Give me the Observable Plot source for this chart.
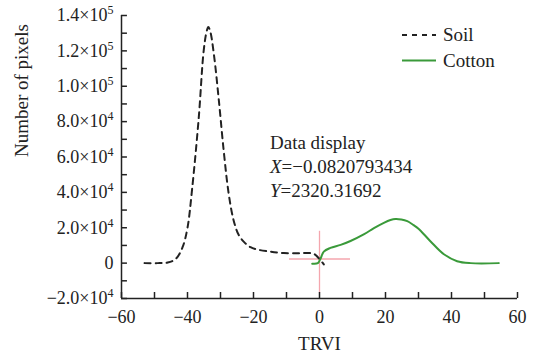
<!DOCTYPE html>
<html>
<head>
<meta charset="utf-8">
<script src="https://cdn.jsdelivr.net/npm/d3@7"></script>
<script src="https://cdn.jsdelivr.net/npm/@observablehq/plot@0.6"></script>
<style>
  body { margin: 0; background: #fff; }
  #wrap { position: relative; width: 534px; height: 353px; font-family: "Liberation Serif", "Times New Roman", serif; color: #222; }
  #wrap svg { position: absolute; left: 0; top: 0; }
  .info { position: absolute; left: 270px; top: 130.5px; font-size: 19px; line-height: 24px; white-space: nowrap; }
  .legend { position: absolute; left: 0; top: 0; }
</style>
</head>
<body>
<div id="wrap"></div>
<script>
// ---- data ----
const soilX = [-53, -49, -46, -43.5, -41.5, -40, -38.6, -36.6, -35.1, -34.2, -33.7, -33.1, -32.0, -30.5, -29.0, -27.5, -26.0, -24.5, -22.9, -20.9, -18.9, -15, -10.8, -6, -3, -1.5, 0, 1.3];
const soilY = [0, 0, 300, 2500, 9000, 20000, 42000, 82000, 120000, 131000, 133500, 131000, 118000, 92000, 63000, 39000, 24000, 16000, 12000, 9000, 7700, 6500, 5700, 5600, 5700, 5000, 2300, -700];
const cottonX = [-2.2, -0.5, 0.3, 1.3, 3.3, 6.4, 9.4, 13.4, 16.5, 19.5, 21.5, 23.0, 24.8, 26.6, 28.5, 30, 33.6, 37.7, 41.7, 45.8, 54.3];
const cottonY = [-300, 0, 2500, 6500, 8600, 10300, 12500, 16200, 19800, 22800, 24400, 25000, 24700, 23700, 21500, 19500, 12400, 5000, 1100, 0, 0];
const seriesNames = ["Soil", "Cotton"];
const xTicks = [-60, -40, -20, 0, 20, 40, 60];
const xTickLabels = ["\u221260", "\u221240", "\u221220", "0", "20", "40", "60"];
const xMinor = [-50, -30, -10, 10, 30, 50];
const yTicks = [-20000, 0, 20000, 40000, 60000, 80000, 100000, 120000, 140000];
const yTickLabels = ["\u22122.0\u00d710^4", "0", "2.0\u00d710^4", "4.0\u00d710^4", "6.0\u00d710^4", "8.0\u00d710^4", "1.0\u00d710^5", "1.2\u00d710^5", "1.4\u00d710^5"];
const yMinor = [-10000, 10000, 30000, 50000, 70000, 90000, 110000, 130000];
const crossX = [0];
const crossY = [2320.31692];
const crossXSpan = [-9.1, 9.4];
const crossYSpan = [-17000, 18000];
const infoLines = ["Data display", "X=\u22120.0820793434", "Y=2320.31692"];
const xLabel = "TRVI";
const yLabel = "Number of pixels";

const soil = soilX.map((x, i) => ({x, y: soilY[i]}));
const cotton = cottonX.map((x, i) => ({x, y: cottonY[i]}));

const ink = "#222";
const green = "#3a9a3a";
const pink = "#f4a6ae";

const xMin = -60, yMin = -20000;
// inward tick lengths, in data units (x: 3.3 px/unit, y: 17.7 px per 10^4)
const tickLenY = 3400, tickLenX = 1.8;

const chart = Plot.plot({
  width: 534,
  height: 353,
  marginLeft: 121,
  marginRight: 17,
  marginTop: 15,
  marginBottom: 55,
  style: {fontFamily: "'Liberation Serif', 'Times New Roman', serif", fontSize: "18px", color: ink, background: "transparent"},
  x: {domain: [-60, 60]},
  y: {domain: [-20000, 140000]},
  marks: [
    // crosshair
    Plot.ruleX(crossX, {y1: crossYSpan[0], y2: crossYSpan[1], stroke: pink, strokeWidth: 1.3}),
    Plot.ruleY(crossY, {x1: crossXSpan[0], x2: crossXSpan[1], stroke: pink, strokeWidth: 1.3}),
    // curves
    Plot.line(soil, {x: "x", y: "y", curve: "catmull-rom", stroke: ink, strokeWidth: 2, strokeDasharray: "6,5"}),
    Plot.line(cotton, {x: "x", y: "y", curve: "catmull-rom", stroke: green, strokeWidth: 2}),
    // inward ticks
    Plot.ruleX(xTicks.concat(xMinor), {y1: yMin, y2: yMin + tickLenY, stroke: ink, strokeWidth: 1.5}),
    Plot.ruleY(yTicks.concat(yMinor), {x1: xMin, x2: xMin + tickLenX, stroke: ink, strokeWidth: 1.5}),
    // axis lines
    Plot.ruleX([xMin], {stroke: ink, strokeWidth: 1.5}),
    Plot.ruleY([yMin], {stroke: ink, strokeWidth: 1.5}),
    // tick labels
    Plot.axisX({ticks: xTicks, tickSize: 0, tickPadding: 12, label: null, fill: ink,
      tickFormat: d => xTickLabels[xTicks.indexOf(d)]}),
    Plot.axisY({ticks: yTicks, tickSize: 0, tickPadding: 8, label: null, fill: ink,
      tickFormat: d => yTickLabels[yTicks.indexOf(d)]}),
    // axis titles
    Plot.text([xLabel], {frameAnchor: "bottom", lineAnchor: "middle", dy: 45, fill: ink, fontSize: 19}),
    Plot.text([yLabel], {frameAnchor: "left", rotate: -90, dx: -100, fill: ink, fontSize: 19})
  ]
});

// superscripts for y tick labels
chart.querySelectorAll("text").forEach(t => {
  const s = t.textContent;
  if (s.includes("^")) {
    const [base, exp] = s.split("^");
    while (t.firstChild) t.removeChild(t.firstChild);
    t.appendChild(document.createTextNode(base));
    const ts = document.createElementNS("http://www.w3.org/2000/svg", "tspan");
    ts.setAttribute("dy", "-7");
    ts.setAttribute("font-size", "12");
    ts.textContent = exp;
    t.appendChild(ts);
  }
});

const wrap = document.getElementById("wrap");
wrap.appendChild(chart);

// legend
const ns = "http://www.w3.org/2000/svg";
const leg = document.createElementNS(ns, "svg");
leg.setAttribute("class", "legend");
leg.setAttribute("width", 534);
leg.setAttribute("height", 100);
const legendRows = [
  {name: seriesNames[0], stroke: ink, dash: "5,5", ly: 35, ty: 41},
  {name: seriesNames[1], stroke: green, dash: null, ly: 60.5, ty: 67}
];
legendRows.forEach(r => {
  const l = document.createElementNS(ns, "line");
  l.setAttribute("x1", 402); l.setAttribute("x2", 436);
  l.setAttribute("y1", r.ly); l.setAttribute("y2", r.ly);
  l.setAttribute("stroke", r.stroke); l.setAttribute("stroke-width", 2);
  if (r.dash) l.setAttribute("stroke-dasharray", r.dash);
  leg.appendChild(l);
  const t = document.createElementNS(ns, "text");
  t.setAttribute("x", 443); t.setAttribute("y", r.ty);
  t.setAttribute("font-family", "'Liberation Serif', 'Times New Roman', serif");
  t.setAttribute("font-size", 19); t.setAttribute("fill", ink);
  t.textContent = r.name;
  leg.appendChild(t);
});
wrap.appendChild(leg);

// data display annotation
const info = document.createElement("div");
info.className = "info";
info.innerHTML = infoLines[0] + "<br><i>" + infoLines[1][0] + "</i>" + infoLines[1].slice(1) +
  "<br><i>" + infoLines[2][0] + "</i>" + infoLines[2].slice(1);
wrap.appendChild(info);
</script>
</body>
</html>
